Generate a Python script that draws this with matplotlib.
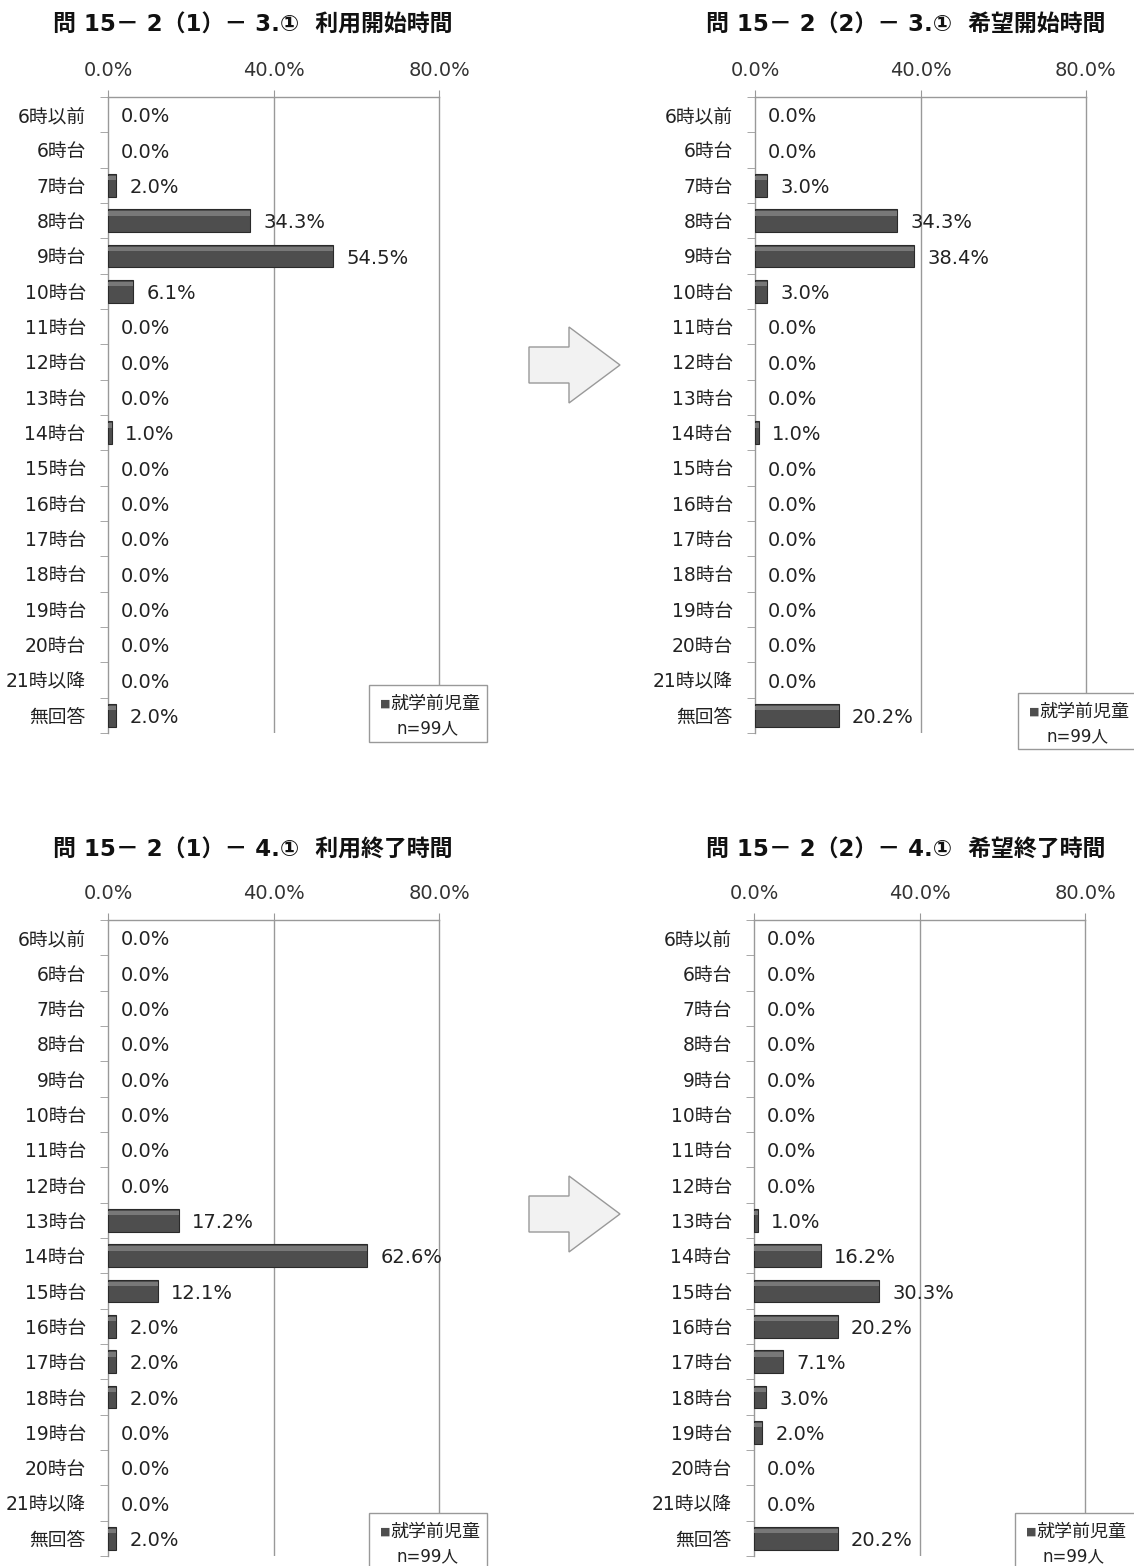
import matplotlib.pyplot as plt
from matplotlib.patches import Rectangle, Polygon

plt.rcParams['font.family'] = ['DejaVu Sans', 'Noto Sans CJK JP']

# categories (time slots)
categories = ['6時以前', '6時台', '7時台', '8時台', '9時台', '10時台', '11時台', '12時台',
              '13時台', '14時台', '15時台', '16時台', '17時台', '18時台', '19時台',
              '20時台', '21時以降', '無回答']

# percentages for each panel
use_start = [0.0, 0.0, 2.0, 34.3, 54.5, 6.1, 0.0, 0.0, 0.0, 1.0, 0.0, 0.0, 0.0, 0.0, 0.0, 0.0, 0.0, 2.0]
wish_start = [0.0, 0.0, 3.0, 34.3, 38.4, 3.0, 0.0, 0.0, 0.0, 1.0, 0.0, 0.0, 0.0, 0.0, 0.0, 0.0, 0.0, 20.2]
use_end = [0.0, 0.0, 0.0, 0.0, 0.0, 0.0, 0.0, 0.0, 17.2, 62.6, 12.1, 2.0, 2.0, 2.0, 0.0, 0.0, 0.0, 2.0]
wish_end = [0.0, 0.0, 0.0, 0.0, 0.0, 0.0, 0.0, 0.0, 1.0, 16.2, 30.3, 20.2, 7.1, 3.0, 2.0, 0.0, 0.0, 20.2]

titles = ['問 15－ 2（1）－ 3.①  利用開始時間', '問 15－ 2（2）－ 3.①  希望開始時間',
          '問 15－ 2（1）－ 4.①  利用終了時間', '問 15－ 2（2）－ 4.①  希望終了時間']
x_ticks = [0, 40, 80]
legend_label = '就学前児童'
n_label = 'n=99人'

W, H = 1134, 1566
fig = plt.figure(figsize=(W / 100, H / 100), dpi=100)


def fx(px):
    return px / W


def fy(py):
    return 1 - py / H


def draw_panel(values, title, left, top, bottom, title_x, title_y, leg_box):
    ax = fig.add_axes([fx(left), fy(bottom), fx(331), (bottom - top) / H])
    y = list(range(len(categories)))
    lws = [0.8 if v > 0 else 0 for v in values]
    ax.barh(y, values, height=0.65, color='#4e4e4e', edgecolor='#2a2a2a', linewidth=lws, zorder=3)
    # lighter top band for a bevel look
    ax.barh([i - 0.2 for i in y], values, height=0.12, color='#787878', linewidth=0, zorder=4)
    for i, v in enumerate(values):
        ax.annotate(f'{v:.1f}%', xy=(v, i), xytext=(9.5, -1.5), textcoords='offset points',
                    va='center', ha='left', fontsize=14, color='#222222', zorder=5)
    ax.set_xlim(0, 80)
    ax.set_ylim(len(categories) - 0.5, -0.5)
    ax.xaxis.tick_top()
    ax.set_xticks(x_ticks)
    ax.set_xticklabels([f'{t:.1f}%' for t in x_ticks], fontsize=14, color='#333333')
    ax.tick_params(axis='x', length=5, color='#999999', pad=7)
    ax.axvline(40, color='#999999', linewidth=1, zorder=1)
    ax.set_yticks(y)
    ax.set_yticklabels(categories, fontsize=13.5, color='#222222')
    ax.set_yticks([i - 0.5 for i in range(len(categories) + 1)], minor=True)
    ax.tick_params(axis='y', which='major', length=0, pad=16)
    ax.tick_params(axis='y', which='minor', length=6, color='#999999')
    ax.spines['bottom'].set_visible(False)
    for s in ['top', 'left', 'right']:
        ax.spines[s].set_color('#999999')
        ax.spines[s].set_linewidth(1)
    fig.text(fx(title_x), fy(title_y), title, ha='center', va='center',
             fontsize=16.5, fontweight='bold', color='#111111')
    # legend box
    bx0, by0, bx1, by1 = leg_box
    fig.patches.append(Rectangle((fx(bx0), fy(by1)), fx(bx1 - bx0), (by1 - by0) / H,
                                 transform=fig.transFigure, facecolor='white',
                                 edgecolor='#999999', linewidth=1, zorder=5))
    fig.text(fx(bx0 + 11), fy(by0 + 19), '■', ha='left', va='center', fontsize=8,
             color='#4e4e4e', zorder=6)
    fig.text(fx(bx0 + 21), fy(by0 + 19), legend_label, ha='left', va='center', fontsize=13,
             color='#222222', zorder=6)
    fig.text(fx(bx0 + 28), fy(by0 + 43), n_label, ha='left', va='center', fontsize=12,
             color='#222222', zorder=6)
    return ax


draw_panel(use_start, titles[0], 108, 97, 733, 253, 25, (369, 685, 487, 742))
draw_panel(wish_start, titles[1], 755, 97, 733, 906, 25, (1018, 693, 1145, 749))
draw_panel(use_end, titles[2], 108, 920, 1556, 253, 850, (369, 1513, 487, 1575))
draw_panel(wish_end, titles[3], 754, 920, 1556, 906, 850, (1015, 1513, 1145, 1575))


# arrows between panels
def draw_arrow(cy):
    pts = [(529, cy - 18), (569, cy - 18), (569, cy - 38), (620, cy), (569, cy + 38),
           (569, cy + 18), (529, cy + 18)]
    fig.patches.append(Polygon([(fx(px), fy(py)) for px, py in pts], closed=True,
                               transform=fig.transFigure, facecolor='#f2f2f2',
                               edgecolor='#999999', linewidth=1))


draw_arrow(365)
draw_arrow(1214)

fig.savefig('out.png', dpi=100, facecolor='white')
